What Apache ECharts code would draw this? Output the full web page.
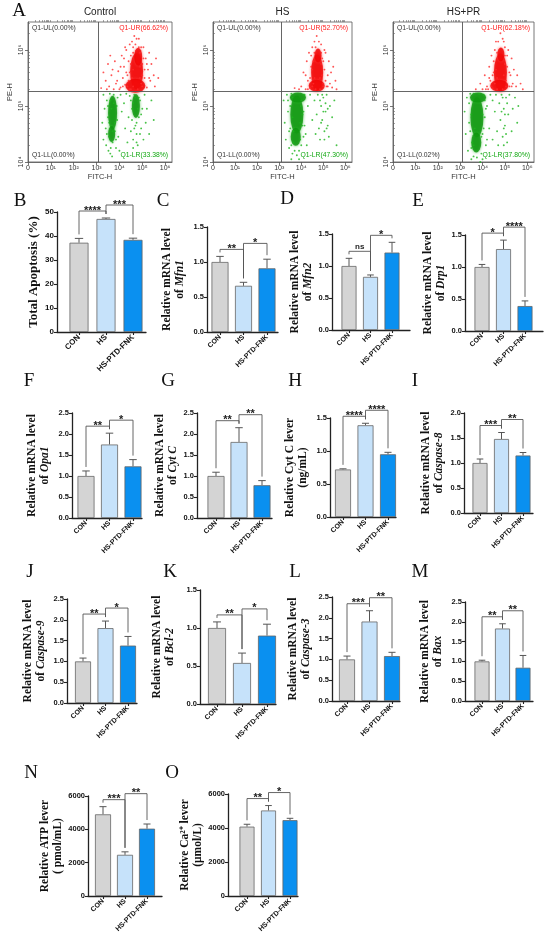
<!DOCTYPE html>
<html>
<head>
<meta charset="utf-8">
<script src="https://cdn.jsdelivr.net/npm/echarts@6/dist/echarts.min.js"></script>
<style>
html, body { margin: 0; padding: 0; background: #fff; }
#chart { width: 550px; height: 942px; }
</style>
</head>
<body>
<div id="chart"></div>
<script>
'use strict';
// groups + tick labels
const groups = ['CON', 'HS', 'HS-PTD-FNK'];
const fitcTicks = [0, 1, 2, 3, 4, 5, 6];
const fitcLabels = ['0', '10¹', '10²', '10³', '10⁴', '10⁵', '10⁶'];
const peTicks = [4, 5, 6];
const peLabels = ['10⁴', '10⁵', '10⁶'];

// flow cytometry (log10 units)
const ctrlQuad = ['0.00', '66.62', '0.00', '33.38'];
const hsQuad = ['0.00', '52.70', '0.00', '47.30'];
const hsprQuad = ['0.00', '62.18', '0.02', '37.80'];

const ctrlRed = [[3.2,5.32],[3.3,5.6],[3.4,5.45],[3.5,5.75],[3.55,5.35],[3.65,5.55],[3.75,5.3],[3.8,5.8],[3.9,5.45],[3.95,5.62],[4.05,5.33],[4.1,5.9],[4.15,5.5],[4.2,5.7],[4.25,5.38],[4.3,6.0],[4.35,5.55],[4.4,5.8],[4.45,6.1],[4.5,5.3],[4.55,6.15],[4.6,5.95],[4.65,6.25],[4.85,6.2],[4.9,5.95],[4.95,5.4],[5.0,5.75],[5.05,6.05],[5.1,5.5],[5.15,5.85],[5.2,5.33],[5.25,5.65],[5.3,5.95],[5.35,5.45],[5.4,5.75],[5.5,5.55],[5.55,5.35],[5.6,5.85],[5.7,5.5],[4.0,5.3],[4.45,5.3],[4.8,5.3],[3.6,5.9],[4.25,6.05],
    [4.4,5.45],[4.45,5.6],[4.5,5.75],[4.5,5.9],[4.55,5.5],[4.6,5.35],[4.6,5.65],[4.6,6.05],[4.9,5.5],[4.9,5.7],[4.95,6.05],[5.0,5.55],[5.0,5.35],[5.05,5.85],[5.1,5.65],[4.35,5.35],[4.3,5.6],[4.2,5.85],[4.15,5.35],[4.05,5.7],[3.85,5.4],[3.7,5.65],[3.45,5.3],[5.2,5.75],[5.3,5.5],[4.75,6.2],[4.7,6.1],[4.85,6.05]];
const ctrlRedCore = [[4.75,5.62],[4.7,5.36],[4.82,5.88]];
const ctrlGreen = [[3.3,5.2],[3.35,4.95],[3.4,4.6],[3.42,4.3],[3.45,5.1],[3.5,4.8],[3.55,4.45],[3.58,5.22],[3.6,4.15],[3.62,4.65],[3.7,4.35],[3.75,5.2],[3.8,4.55],[3.85,4.25],[3.9,4.75],[3.92,5.15],[3.95,4.45],[4.05,5.2],[4.1,4.9],[4.2,5.05],[4.25,4.6],[4.3,5.22],[4.35,4.35],[4.4,4.8],[4.45,5.18],[4.5,4.55],[4.55,4.95],[4.6,4.4],[4.65,5.2],[4.7,4.65],[4.75,4.5],[4.8,4.3],[4.85,4.8],[4.9,5.1],[4.95,4.6],[5.0,4.95],[5.05,4.4],[5.1,5.2],[5.15,4.7],[5.2,4.95],[5.3,4.5],[5.4,5.1],[5.5,4.75],[3.25,4.7],[3.3,4.4],[4.0,4.2],
    [3.5,5.0],[3.55,4.7],[3.6,5.1],[3.62,4.25],[3.65,4.95],[3.7,4.55],[3.75,5.05],[3.8,4.7],[3.85,4.4],[3.88,5.0],[3.45,4.5],[3.52,4.2],[3.68,4.1],[4.5,5.1],[4.55,4.75],[4.6,5.05],[4.65,4.6],[4.7,5.15],[4.75,4.7],[4.8,4.95],[4.85,5.15],[4.9,4.5],[4.95,4.85],[4.6,4.25],[4.75,4.35]];
const ctrlGreenCore = [[3.7,4.88],[3.66,4.5],[4.72,5.0]];

const hsRed = [[4.0,5.35],[4.1,5.6],[4.2,5.3],[4.25,5.8],[4.3,5.45],[4.35,5.95],[4.4,5.32],[4.45,5.7],[4.5,6.05],[4.55,5.4],[4.6,6.15],[4.9,6.1],[4.95,5.85],[5.0,5.4],[5.05,5.65],[5.1,5.95],[5.15,5.35],[5.2,5.55],[5.25,5.8],[5.3,5.4],[5.35,5.6],[5.4,5.33],[5.45,5.7],[5.55,5.45],[3.9,5.3],[4.7,6.25],[4.85,5.3],[4.65,5.3],[3.7,5.32],[5.6,5.3],
    [4.4,5.5],[4.45,5.9],[4.5,5.35],[4.5,5.65],[4.55,5.8],[4.6,5.5],[4.6,5.95],[4.85,5.5],[4.9,5.75],[4.9,5.95],[4.95,5.55],[5.0,5.35],[5.0,5.8],[5.05,6.0],[4.3,5.3],[4.2,5.55],[4.65,6.05],[4.8,6.15],[5.1,5.45],[5.2,5.35]];
const hsRedCore = [[4.72,5.6],[4.76,5.9],[4.7,5.36]];
const hsGreen = [[3.2,5.1],[3.25,4.7],[3.3,4.4],[3.35,5.2],[3.4,4.9],[3.45,4.25],[3.5,4.6],[3.55,5.22],[3.6,4.15],[3.65,4.35],[3.9,4.2],[3.95,4.4],[4.0,5.1],[4.05,4.65],[4.1,4.9],[4.15,5.2],[4.2,4.5],[4.3,5.0],[4.4,5.2],[4.5,4.75],[4.6,5.1],[4.65,4.5],[4.7,4.85],[4.75,5.2],[4.8,4.6],[4.85,4.4],[4.9,5.0],[4.95,4.75],[5.0,5.15],[5.05,4.55],[5.1,4.9],[5.15,5.2],[5.2,4.65],[5.25,4.45],[5.3,5.0],[5.4,4.8],[5.5,5.1],[5.6,4.3],[3.8,4.12],[4.25,4.3],
    [3.4,5.1],[3.45,4.55],[3.5,5.0],[3.55,4.3],[3.6,4.8],[3.6,5.15],[3.65,4.55],[3.7,4.2],[3.95,4.7],[3.98,5.0],[4.0,4.3],[4.05,4.85],[4.1,5.2],[4.1,4.45],[3.55,4.05],[3.9,4.05],[4.15,4.65],[4.85,5.1],[4.9,4.7],[4.95,5.2],[5.0,4.9],[5.05,4.4],[5.1,5.05],[5.15,4.6],[5.2,4.95]];
const hsGreenCore = [[3.8,4.85],[3.75,4.45],[3.85,5.15]];

const hsprRed = [[3.7,5.3],[3.9,5.4],[4.0,5.3],[4.1,5.55],[4.2,5.35],[4.3,5.7],[4.35,5.45],[4.4,5.9],[4.45,5.32],[4.5,5.6],[4.55,6.0],[4.6,6.15],[4.65,5.3],[4.95,6.15],[5.0,5.9],[5.05,5.45],[5.1,5.7],[5.15,6.0],[5.2,5.35],[5.25,5.55],[5.3,5.85],[5.35,5.4],[5.4,5.65],[5.5,5.35],[5.55,5.55],[5.7,5.4],[4.8,6.3],[4.9,5.3],[4.25,5.3],[5.8,5.3],
    [4.45,5.55],[4.5,5.8],[4.55,5.4],[4.6,5.65],[4.65,5.95],[4.65,5.5],[4.95,5.55],[5.0,5.75],[5.0,6.05],[5.05,5.35],[5.1,5.9],[4.4,5.35],[4.3,5.5],[4.7,6.15],[4.9,6.2],[5.2,5.6],[5.3,5.35],[4.15,5.3]];
const hsprRedCore = [[4.8,5.6],[4.82,5.92],[4.75,5.36]];
const hsprGreen = [[3.2,4.9],[3.25,4.5],[3.3,5.15],[3.35,4.2],[3.4,4.7],[3.45,5.22],[3.5,4.05],[3.55,4.35],[3.95,4.15],[4.0,4.5],[4.05,5.2],[4.1,4.8],[4.15,4.3],[4.2,5.0],[4.3,4.6],[4.35,5.2],[4.45,4.4],[4.55,4.9],[4.6,5.2],[4.65,4.55],[4.7,4.3],[4.75,5.05],[4.8,4.75],[4.85,5.2],[4.9,4.45],[4.95,4.95],[5.0,4.65],[5.05,5.15],[5.1,4.35],[5.15,4.85],[5.2,5.2],[5.3,4.55],[5.35,4.95],[5.45,5.15],[5.55,4.7],[5.6,5.0],[3.75,4.08],[3.6,5.22],[3.85,5.22],[4.45,5.1],
    [3.4,5.05],[3.45,4.55],[3.5,4.85],[3.55,5.1],[3.6,4.3],[3.6,4.1],[3.65,4.6],[3.95,4.45],[4.0,4.85],[4.05,4.6],[4.1,5.1],[4.0,4.05],[3.5,4.25],[3.9,4.0],[4.15,4.95],[4.2,4.4],[4.85,4.9],[4.9,5.15],[4.95,4.6],[5.0,4.85],[5.05,4.5],[5.1,5.05],[4.95,4.3]];
const hsprGreenCore = [[3.75,4.8],[3.72,4.35],[3.8,5.15]];

// bar panels: mean, SD, significance (CON-HS, HS-FNK)
const bMean = [37.2, 47.1, 38.4], bSd = [1.8, 0.4, 0.7], bSig = ['****', '***'];
const cMean = [1.0, 0.66, 0.91], cSd = [0.08, 0.05, 0.13], cSig = ['**', '*'];
const dMean = [1.0, 0.83, 1.21], dSd = [0.12, 0.03, 0.16], dSig = ['ns', '*'];
const eMean = [1.0, 1.28, 0.39], eSd = [0.04, 0.14, 0.08], eSig = ['*', '****'];
const fMean = [1.0, 1.75, 1.23], fSd = [0.12, 0.27, 0.16], fSig = ['**', '*'];
const gMean = [1.0, 1.81, 0.78], gSd = [0.09, 0.34, 0.11], gSig = ['**', '**'];
const hMean = [0.72, 1.39, 0.95], hSd = [0.01, 0.03, 0.03], hSig = ['****', '****'];
const iMean = [1.0, 1.48, 1.15], iSd = [0.08, 0.13, 0.06], iSig = ['***', '**'];
const jMean = [1.0, 1.8, 1.38], jSd = [0.08, 0.17, 0.22], jSig = ['**', '*'];
const kMean = [1.0, 0.54, 0.9], kSd = [0.08, 0.13, 0.15], kSig = ['**', '*'];
const lMean = [1.0, 1.91, 1.08], lSd = [0.08, 0.26, 0.09], lSig = ['***', '**'];
const mMean = [1.0, 1.83, 0.84], mSd = [0.03, 0.12, 0.31], mSig = ['**', '**'];
const nMean = [4900, 2470, 4040], nSd = [460, 180, 280], nSig = ['***', '**'];
const oMean = [4080, 5030, 4460], oSd = [140, 290, 110], oSig = ['**', '*'];

const barColors = ['#d4d4d4', '#c6e2fa', '#0a90f0'];
const SERIF = 'Liberation Serif';
const SANS = 'Liberation Sans';

const flowPanels = [
    { title: 'Control', left: 28, right: 172, red: ctrlRed, redCore: ctrlRedCore, redCoreSize: [[13, 36], [20, 14], [8, 18]],
      green: ctrlGreen, greenCore: ctrlGreenCore, greenCoreSize: [[9, 34], [7, 16], [8, 24]], quad: ctrlQuad },
    { title: 'HS', left: 213, right: 352, red: hsRed, redCore: hsRedCore, redCoreSize: [[12, 36], [7, 14], [16, 12]],
      green: hsGreen, greenCore: hsGreenCore, greenCoreSize: [[13, 38], [10, 18], [16, 10]], quad: hsQuad },
    { title: 'HS+PR', left: 393, right: 534, red: hsprRed, redCore: hsprRedCore, redCoreSize: [[13, 38], [7, 14], [18, 12]],
      green: hsprGreen, greenCore: hsprGreenCore, greenCoreSize: [[13, 40], [10, 20], [16, 10]], quad: hsprQuad }
];
const FLOW_TOP = 22, FLOW_BOTTOM = 162, GATE_X = 3.08, GATE_Y = 5.26;

const mrna = g => 'Relative mRNA level\nof {g|' + g + '}';
const panels = [
    { id: 'B', mean: bMean, sd: bSd, sig: bSig, max: 50, step: 10, dec: 0, ax: 57, c0: 79, c2: 133, end: 146, top: 212, bot: 332, name: 'Total Apoptosis (%)', lines: 1, nc: 15, fs: 13, lt: [20, 201] },
    { id: 'C', mean: cMean, sd: cSd, sig: cSig, max: 1.5, step: 0.5, dec: 1, ax: 207, c0: 220, c2: 267, end: 278, top: 227, bot: 332, name: mrna('Mfn1'), nc: 33, lt: [163, 201] },
    { id: 'D', mean: dMean, sd: dSd, sig: dSig, max: 1.5, step: 0.5, dec: 1, ax: 332, c0: 349, c2: 392, end: 410, top: 234, bot: 330, name: mrna('Mfn2'), nc: 24, lt: [287, 199] },
    { id: 'E', mean: eMean, sd: eSd, sig: eSig, max: 1.5, step: 0.5, dec: 1, ax: 465, c0: 482, c2: 525, end: 543, top: 235, bot: 331, name: mrna('Drp1'), nc: 26, lt: [418, 201] },
    { id: 'F', mean: fMean, sd: fSd, sig: fSig, max: 2.5, step: 0.5, dec: 1, ax: 72, c0: 86, c2: 133, end: 142, top: 413, bot: 518, name: mrna('Opa1'), nc: 33, lt: [29, 381] },
    { id: 'G', mean: gMean, sd: gSd, sig: gSig, max: 2.5, step: 0.5, dec: 1, ax: 197, c0: 216, c2: 262, end: 272, top: 413, bot: 518, name: mrna('Cyt C'), nc: 30, lt: [168, 381] },
    { id: 'H', mean: hMean, sd: hSd, sig: hSig, max: 1.5, step: 0.5, dec: 1, ax: 330, c0: 343, c2: 388, end: 396, top: 418, bot: 517, name: 'Relative Cyt C lever\n(ng/mL)', nc: 33, lt: [295, 381] },
    { id: 'I', mean: iMean, sd: iSd, sig: iSig, max: 2.0, step: 0.5, dec: 1, ax: 464, c0: 480, c2: 523, end: 533, top: 413, bot: 513, name: mrna('Caspase-8'), nc: 31, lt: [415, 381] },
    { id: 'J', mean: jMean, sd: jSd, sig: jSig, max: 2.5, step: 0.5, dec: 1, ax: 67, c0: 83, c2: 128, end: 137, top: 599, bot: 703, name: mrna('Caspase-9'), nc: 32, lt: [30, 572] },
    { id: 'K', mean: kMean, sd: kSd, sig: kSig, max: 1.5, step: 0.5, dec: 1, ax: 200, c0: 217, c2: 267, end: 276, top: 590, bot: 704, name: mrna('Bcl-2'), nc: 36, lt: [170, 572] },
    { id: 'L', mean: lMean, sd: lSd, sig: lSig, max: 2.5, step: 0.5, dec: 1, ax: 332, c0: 347, c2: 392, end: 400, top: 597, bot: 701, name: mrna('Caspase-3'), nc: 32, lt: [295, 572] },
    { id: 'M', mean: mMean, sd: mSd, sig: mSig, max: 2.5, step: 0.5, dec: 1, ax: 465, c0: 482, c2: 523, end: 533, top: 602, bot: 701, name: mrna('Bax'), nc: 33, lt: [420, 572] },
    { id: 'N', mean: nMean, sd: nSd, sig: nSig, max: 6000, step: 2000, dec: 0, ax: 88, c0: 103, c2: 147, end: 162, top: 796, bot: 896, name: 'Relative ATP lever\n( pmol/mL)', nc: 36, lt: [31, 773] },
    { id: 'O', mean: oMean, sd: oSd, sig: oSig, max: 6000, step: 2000, dec: 0, ax: 228, c0: 247, c2: 290, end: 298, top: 794, bot: 896, name: 'Relative Ca²⁺ lever\n(μmol/L)', nc: 35, lt: [172, 773] }
];

const grids = [], xAxes = [], yAxes = [], series = [], graphics = [];

const letter = (t, x, y) => graphics.push({ type: 'text', x, y, style: { text: t, font: '19px ' + SERIF, fill: '#111', align: 'center', verticalAlign: 'middle' } });
const smallText = (t, x, y, color, align) => graphics.push({ type: 'text', x, y, style: { text: t, font: '6.8px ' + SANS, fill: color, align, verticalAlign: 'middle' } });

// minor log ticks
const minorTicks = (from, to) => {
    const out = [];
    for (let n = Math.floor(from); n < to; n++) {
        for (let k = 2; k <= 9; k++) {
            const v = n + Math.log10(k);
            if (v > from && v < to) out.push(v);
        }
    }
    return out;
};

letter('A', 19, 11);

flowPanels.forEach(fp => {
    const gi = grids.length;
    grids.push({ left: fp.left, top: FLOW_TOP, width: fp.right - fp.left, height: FLOW_BOTTOM - FLOW_TOP,
        show: true, borderColor: '#555', borderWidth: 0.8, backgroundColor: 'transparent' });
    const xi = xAxes.length, yi = yAxes.length;
    xAxes.push({
        gridIndex: gi, type: 'value', min: 0, max: 6.3,
        name: 'FITC-H', nameLocation: 'middle', nameGap: 10,
        nameTextStyle: { fontFamily: SANS, fontSize: 7.5, color: '#333' },
        axisLine: { onZero: false, lineStyle: { color: '#555', width: 0.8 } },
        axisTick: { customValues: fitcTicks, length: 3, lineStyle: { color: '#555', width: 0.8 } },
        axisLabel: { customValues: fitcTicks, formatter: v => fitcLabels[Math.round(v)], fontFamily: SANS, fontSize: 7, color: '#333', margin: 3 },
        splitLine: { show: false }
    });
    xAxes.push({
        gridIndex: gi, type: 'value', min: 0, max: 6.3,
        axisLine: { show: false },
        axisTick: { customValues: minorTicks(0, 6.3), length: 2, lineStyle: { color: '#666', width: 0.6 } },
        axisLabel: { show: false }, splitLine: { show: false }
    });
    yAxes.push({
        gridIndex: gi, type: 'value', min: 4, max: 6.5,
        name: 'PE-H', nameLocation: 'middle', nameGap: 14,
        nameTextStyle: { fontFamily: SANS, fontSize: 7.5, color: '#333' },
        axisLine: { onZero: false, lineStyle: { color: '#555', width: 0.8 } },
        axisTick: { customValues: peTicks, length: 3, lineStyle: { color: '#555', width: 0.8 } },
        axisLabel: { customValues: peTicks, formatter: v => peLabels[Math.round(v) - 4], rotate: 90, fontFamily: SANS, fontSize: 7, color: '#333', margin: 3 },
        splitLine: { show: false }
    });
    yAxes.push({
        gridIndex: gi, type: 'value', min: 4, max: 6.5,
        axisLine: { show: false },
        axisTick: { customValues: minorTicks(4, 6.5), length: 2, lineStyle: { color: '#666', width: 0.6 } },
        axisLabel: { show: false }, splitLine: { show: false }
    });
    series.push({
        type: 'scatter', xAxisIndex: xi, yAxisIndex: yi, data: fp.greenCore, silent: true,
        symbolSize: (v, p) => fp.greenCoreSize[p.dataIndex],
        itemStyle: { color: '#0c940c', opacity: 0.8, shadowBlur: 3, shadowColor: '#2ab82a' }
    });
    series.push({
        type: 'scatter', xAxisIndex: xi, yAxisIndex: yi, data: fp.green, silent: true, symbolSize: 1.9,
        itemStyle: { color: '#1cb41c' }
    });
    series.push({
        type: 'scatter', xAxisIndex: xi, yAxisIndex: yi, data: fp.redCore, silent: true,
        symbolSize: (v, p) => fp.redCoreSize[p.dataIndex],
        itemStyle: { color: '#f00000', opacity: 0.8, shadowBlur: 3, shadowColor: '#ff4040' }
    });
    series.push({
        type: 'scatter', xAxisIndex: xi, yAxisIndex: yi, data: fp.red, silent: true, symbolSize: 1.9,
        itemStyle: { color: '#ff2a2a' },
        markLine: {
            silent: true, symbol: 'none', label: { show: false },
            lineStyle: { color: '#555', width: 0.9, type: 'solid' },
            data: [{ xAxis: GATE_X }, { yAxis: GATE_Y }]
        }
    });
    const cx = (fp.left + fp.right) / 2;
    graphics.push({ type: 'text', x: cx, y: 12, style: { text: fp.title, font: '10px ' + SANS, fill: '#222', align: 'center', verticalAlign: 'middle' } });
    smallText('Q1-UL(' + fp.quad[0] + '%)', fp.left + 4, FLOW_TOP + 6, '#333', 'left');
    smallText('Q1-UR(' + fp.quad[1] + '%)', fp.right - 4, FLOW_TOP + 6, '#ff1a1a', 'right');
    smallText('Q1-LL(' + fp.quad[2] + '%)', fp.left + 4, FLOW_BOTTOM - 7, '#333', 'left');
    smallText('Q1-LR(' + fp.quad[3] + '%)', fp.right - 4, FLOW_BOTTOM - 7, '#12a812', 'right');
});

panels.forEach(p => {
    const gi = grids.length;
    const s = (p.c2 - p.c0) / 2;
    const lines = p.lines || 2;
    const fs = p.fs || 11.5;
    const lh = fs + 1.5;
    grids.push({ left: p.ax, top: p.top, width: p.end - p.ax, height: p.bot - p.top });
    const xi = xAxes.length, yi = yAxes.length;
    xAxes.push({
        gridIndex: gi, type: 'value',
        min: -(p.c0 - p.ax) / s, max: 2 + (p.end - p.c2) / s,
        axisLine: { onZero: false, lineStyle: { color: '#222', width: 1.3 } },
        axisTick: { customValues: [0, 1, 2], length: 3, lineStyle: { color: '#222', width: 1.1 } },
        axisLabel: {
            customValues: [0, 1, 2], formatter: v => groups[Math.round(v)], rotate: 45, margin: 4,
            fontFamily: SANS, fontWeight: 'bold', fontSize: p.id === 'B' ? 8 : 7, color: '#111'
        },
        splitLine: { show: false }
    });
    yAxes.push({
        gridIndex: gi, type: 'value', min: 0, max: p.max, interval: p.step,
        name: p.name, nameLocation: 'middle', nameGap: p.nc - lines * lh / 2,
        nameTextStyle: {
            fontFamily: SERIF, fontWeight: 'bold', fontSize: fs, lineHeight: lh, color: '#111',
            rich: { g: { fontFamily: SERIF, fontWeight: 'bold', fontStyle: 'italic', fontSize: fs, lineHeight: lh, color: '#111' } }
        },
        axisLine: { onZero: false, lineStyle: { color: '#222', width: 1.3 } },
        axisTick: { length: 3, lineStyle: { color: '#222', width: 1.1 } },
        axisLabel: { formatter: v => v.toFixed(p.dec), fontFamily: SANS, fontWeight: 'bold', fontSize: p.id === 'B' ? 8 : 7.5, color: '#111', margin: 3 },
        splitLine: { show: false }
    });
    const bw = Math.round(s * 0.72);
    series.push({
        type: 'bar', xAxisIndex: xi, yAxisIndex: yi, barWidth: bw, silent: true,
        data: p.mean.map((m, k) => ({ value: [k, m], itemStyle: { color: barColors[k] } })),
        itemStyle: { borderColor: '#666', borderWidth: 0.8 }
    });
    series.push({
        type: 'custom', xAxisIndex: xi, yAxisIndex: yi, silent: true,
        data: p.mean.map((m, k) => [k, m, m + p.sd[k]]),
        encode: { x: 0, y: [1, 2] },
        renderItem: (params, api) => {
            const a = api.coord([api.value(0), api.value(1)]);
            const b = api.coord([api.value(0), api.value(2)]);
            const hw = bw * 0.22;
            const st = { stroke: '#555', lineWidth: 1 };
            return { type: 'group', children: [
                { type: 'line', shape: { x1: a[0], y1: a[1], x2: b[0], y2: b[1] }, style: st },
                { type: 'line', shape: { x1: b[0] - hw, y1: b[1], x2: b[0] + hw, y2: b[1] }, style: st }
            ] };
        }
    });
    series.push({
        type: 'custom', xAxisIndex: xi, yAxisIndex: yi, silent: true,
        data: p.sig.map((t, k) => [k, 0]),
        encode: { x: 0, y: 1 },
        renderItem: (params, api) => {
            const k = params.dataIndex;
            const tops = p.mean.map((m, i) => api.coord([i, m + p.sd[i]]));
            const b1 = Math.min(tops[0][1], tops[1][1]) - 7;
            const b2 = Math.min(Math.min(tops[1][1], tops[2][1]) - 7, b1 - 6);
            const y = k === 0 ? b1 : b2;
            const a = tops[k], b = tops[k + 1];
            const la = Math.max(a[1] - 4, y + 3), lb = Math.max(b[1] - 4, y + 3);
            const lab = p.sig[k];
            const star = lab !== 'ns';
            return { type: 'group', children: [
                { type: 'polyline', shape: { points: [[a[0], la], [a[0], y], [b[0], y], [b[0], lb]] },
                  style: { stroke: '#555', lineWidth: 0.9, fill: null } },
                { type: 'text', style: { text: lab, x: (a[0] + b[0]) / 2, y: star ? y + 5 : y - 1,
                  align: 'center', verticalAlign: 'bottom', fontSize: star ? 11 : 8, fontWeight: 'bold',
                  fontFamily: SANS, fill: '#222' } }
            ] };
        }
    });
    letter(p.id, p.lt[0], p.lt[1]);
});

const chart = echarts.init(document.getElementById('chart'), null, { renderer: 'canvas' });
chart.setOption({
    animation: false,
    backgroundColor: '#fff',
    grid: grids,
    xAxis: xAxes,
    yAxis: yAxes,
    series,
    graphic: graphics
});
</script>
</body>
</html>
